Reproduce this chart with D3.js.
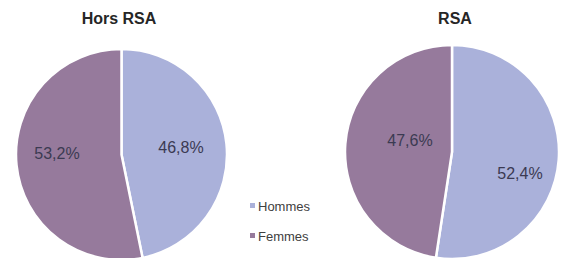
<!DOCTYPE html>
<html><head><meta charset="utf-8">
<script src="https://cdn.jsdelivr.net/npm/d3@7"></script>
<style>html,body{margin:0;padding:0;background:#fff;}svg{display:block;}</style>
</head><body>
<script>
const categories = ["Hommes", "Femmes"];
const titles = ["Hors RSA", "RSA"];
const horsRSA = [46.8, 53.2];
const rsa = [52.4, 47.6];
const colors = ["#aab1da", "#967a9c"];

const W = 565, H = 258;
const svg = d3.select("body").append("svg").attr("width", W).attr("height", H);
const font = "'Liberation Sans', Arial, sans-serif";

const pies = [
  {title: titles[0], values: horsRSA, cx: 121.5, cy: 154.5, r: 105.5, tx: 119,
   labels: [{dx: 59.5, dy: -7.5}, {dx: -64.5, dy: -1.5}]},
  {title: titles[1], values: rsa, cx: 452, cy: 152, r: 107, tx: 455,
   labels: [{dx: 68, dy: 21}, {dx: -42, dy: -12}]}
];

const pie = d3.pie().sort(null).value(d => d);
pies.forEach(p => {
  const g = svg.append("g").attr("transform", `translate(${p.cx},${p.cy})`);
  const arc = d3.arc().innerRadius(0).outerRadius(p.r);
  const arcs = pie(p.values);
  g.selectAll("path").data(arcs).enter().append("path")
    .attr("d", arc)
    .attr("fill", (d, i) => colors[i])
    .attr("stroke", "#fff").attr("stroke-width", 2.5);
  g.selectAll("text.lbl").data(arcs).enter().append("text")
    .attr("class", "lbl")
    .attr("x", (d, i) => p.labels[i].dx)
    .attr("y", (d, i) => p.labels[i].dy)
    .attr("text-anchor", "middle").attr("dominant-baseline", "central")
    .attr("font-family", font).attr("font-size", 16)
    .attr("fill", "#3b3a52")
    .text(d => d3.format(".1f")(d.data).replace(".", ",") + "%");
  svg.append("text").attr("x", p.tx).attr("y", 24)
    .attr("text-anchor", "middle")
    .attr("font-family", font).attr("font-size", 16).attr("font-weight", "bold")
    .attr("fill", "#262626").text(p.title);
});

const legend = svg.append("g");
categories.forEach((c, i) => {
  const y = 206 + i * 30;
  legend.append("rect").attr("x", 250).attr("y", y - 3).attr("width", 5).attr("height", 5)
    .attr("fill", colors[i]);
  legend.append("text").attr("x", 258).attr("y", y).attr("dominant-baseline", "central")
    .attr("font-family", font).attr("font-size", 13).attr("fill", "#404040").text(c);
});
</script>
</body></html>
